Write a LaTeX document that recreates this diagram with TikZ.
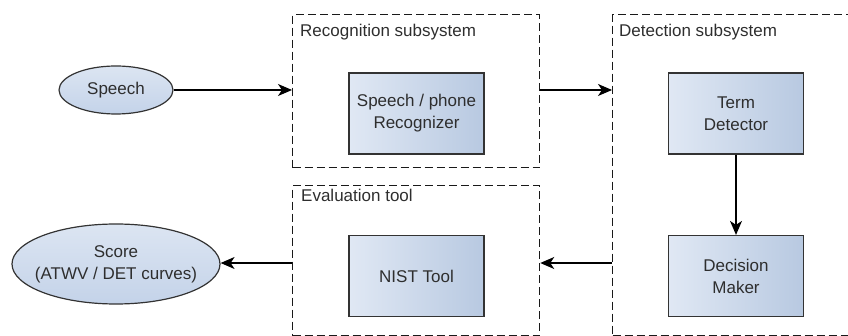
\documentclass[tikz,border=0pt]{standalone}
\usepackage{fontspec}
\setmainfont{Liberation Sans}
\usetikzlibrary{arrows.meta,shapes.geometric}
\definecolor{txt}{HTML}{2E2E2E}
\definecolor{bl}{HTML}{E0E8F4}
\definecolor{br}{HTML}{B8C9E1}
\definecolor{el}{HTML}{C4D3E9}
\definecolor{elt}{HTML}{DCE5F2}
\tikzset{
  grp/.style={draw=black!90, line width=1.25pt, dash pattern=on 8pt off 4pt, rectangle, inner sep=0pt, anchor=north west},
  proc/.style={draw=black!80, line width=1.2pt, rectangle, left color=bl, right color=br, minimum width=135pt, minimum height=81pt, align=center, text=txt, font=\fontsize{17}{22}\selectfont, inner sep=0pt},
  oval/.style={draw=black!80, line width=1.2pt, ellipse, top color=elt, bottom color=el, align=center, text=txt, font=\fontsize{17}{22}\selectfont, inner sep=0pt},
  grplabel/.style={anchor=west, text=txt, font=\fontsize{17}{20}\selectfont, inner sep=0pt},
  arr/.style={line width=1.2pt, -{Stealth[length=14pt,width=12pt,inset=4pt]}}
}
\begin{document}
\begin{tikzpicture}[x=1pt,y=-1pt]
\useasboundingbox (0,0) rectangle (848,336);
\begin{scope}
\clip (0,0) rectangle (848,336);
\node[grp, minimum width=247pt, minimum height=153pt] (rec) at (292,14) {};
\node[grp, minimum width=260pt, minimum height=321pt] (det) at (612,14) {};
\node[grp, minimum width=247pt, minimum height=150pt] (eval) at (292,185) {};
\end{scope}
\node[grplabel] (reclab) at (300,32) {Recognition subsystem};
\node[grplabel] (detlab) at (619,32) {Detection subsystem};
\node[grplabel] (evallab) at (301,195) {Evaluation tool};

\node[proc] (recog) at (416.5,113.5) {Speech / phone\\Recognizer};
\node[proc] (term) at (736,113.5) {Term\\Detector};
\node[proc] (dec) at (736,276) {Decision\\Maker};
\node[proc] (nist) at (416.5,276) {NIST Tool};

\node[oval, minimum width=114pt, minimum height=48pt] (speech) at (116,90) {Speech};
\node[oval, inner xsep=-20pt, minimum width=208pt, minimum height=80pt] (score) at (116,264) {Score\\(ATWV / DET curves)};

\coordinate (top) at (0,90);
\coordinate (low) at (0,263);
\draw[arr] (speech.east) -- (speech.east -| rec.west);
\draw[arr] (top -| rec.east) -- (top -| det.west);
\draw[arr] (term.south) -- (dec.north);
\draw[arr] (low -| det.west) -- (low -| eval.east);
\draw[arr] (low -| eval.west) -- (low -| score.east);
\end{tikzpicture}
\end{document}
